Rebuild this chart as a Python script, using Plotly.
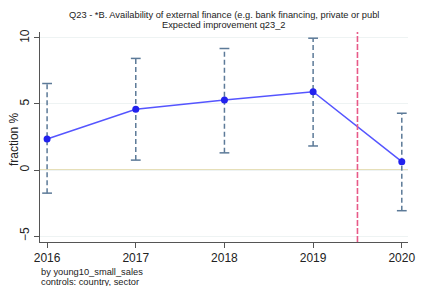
import plotly.graph_objects as go

years = [2016, 2017, 2018, 2019, 2020]
estimate = [2.35, 4.6, 5.3, 5.93, 0.63]
ci_upper = [6.55, 8.45, 9.2, 9.98, 4.3]
ci_lower = [-1.75, 0.75, 1.3, 1.82, -3.08]
ytick_vals = [-5, 0, 5, 10]
cutoff_year = 2019.5

title_lines = ["Q23 - *B. Availability of external finance (e.g. bank financing, private or publ",
               "Expected improvement q23_2"]
note_lines = ["by young10_small_sales", "controls: country, sector"]
ytitle_text = "fraction %"

ci_color = "#5c7a98"
line_color = "#5555ff"
marker_color = "#2222ee"
txt = "#222222"

fig = go.Figure()

xs, ys = [], []
for x, lo, hi in zip(years, ci_lower, ci_upper):
    xs += [x, x, None]
    ys += [lo, hi, None]
fig.add_trace(go.Scatter(x=xs, y=ys, mode="lines",
                         line=dict(color=ci_color, width=1.5, dash="5px,3px"),
                         hoverinfo="skip", showlegend=False))
fig.add_trace(go.Scatter(x=years + years, y=ci_upper + ci_lower, mode="markers",
                         marker=dict(symbol="line-ew", size=7,
                                     line=dict(color=ci_color, width=1.5)),
                         hoverinfo="skip", showlegend=False))

fig.add_hline(y=0, line=dict(color="#e6dfb8", width=2), layer="below")
fig.add_vline(x=cutoff_year, line=dict(color="#e85a88", width=1.6, dash="6px,2px"))

fig.add_trace(go.Scatter(x=years, y=estimate, mode="lines+markers",
                         line=dict(color=line_color, width=1.5),
                         marker=dict(color=marker_color, size=7),
                         showlegend=False))

fig.update_layout(
    width=446, height=286,
    margin=dict(l=40, r=38, t=32, b=44, autoexpand=False),
    paper_bgcolor="white", plot_bgcolor="white",
    font=dict(family="Liberation Sans, Arial, sans-serif", color=txt),
)
for line, yp in zip(title_lines, [1.0786, 1.031]):
    fig.add_annotation(text=line, xref="paper", yref="paper", x=0.5, y=yp,
                       xanchor="center", yanchor="middle", align="center",
                       borderpad=0, showarrow=False, font=dict(size=9.3, color=txt))
for line, yp in zip(note_lines, [-0.1405, -0.1881]):
    fig.add_annotation(text=line, xref="paper", yref="paper", x=0.0, y=yp,
                       xanchor="left", yanchor="middle", align="left",
                       borderpad=0, showarrow=False, font=dict(size=9.3, color=txt))
fig.add_annotation(text=ytitle_text, xref="paper", yref="paper", x=-0.0707, y=0.49,
                   xanchor="center", yanchor="middle", textangle=-90,
                   showarrow=False, font=dict(size=12, color=txt))

fig.update_xaxes(range=[2015.92, 2020.07], tickvals=years, ticks="outside",
                 ticklen=5, tickcolor="#555555", showline=True, linecolor="#555555",
                 linewidth=1, showgrid=False, zeroline=False, automargin=False,
                 tickfont=dict(size=12, color=txt))
fig.update_yaxes(range=[-5.45, 10.45], tickvals=ytick_vals, ticks="outside",
                 ticklen=5, tickcolor="#555555", showline=True, linecolor="#555555",
                 linewidth=1, showgrid=True, gridcolor="#eef3f3", gridwidth=1,
                 zeroline=False, tickangle=-90, automargin=False,
                 tickfont=dict(size=12, color=txt))

fig.write_html("out.html", config={"displayModeBar": False},
               post_script="document.body.style.margin='0';document.body.style.overflow='hidden';")
